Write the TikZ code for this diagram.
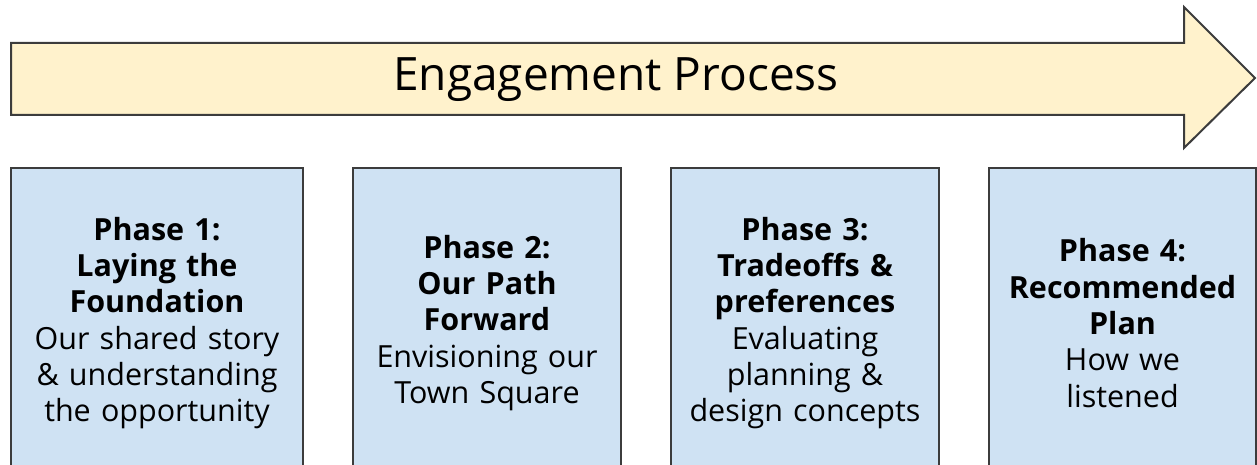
\documentclass[tikz,border=0pt]{standalone}
\usepackage{fontspec}
\setmainfont{Open Sans}
\usepackage{tikz}
\usetikzlibrary{positioning}
\definecolor{bannerfill}{HTML}{FFF2CC}
\definecolor{phasefill}{HTML}{CFE2F3}
\definecolor{edgegray}{HTML}{3C3C3C}
\tikzstyle{banner} = [draw=edgegray, line width=2pt, fill=bannerfill, line join=miter]
\tikzstyle{phase} = [rectangle, minimum width=268pt, minimum height=310pt, text width=262pt, align=center, draw=edgegray, line width=2pt, fill=phasefill, inner sep=0pt, outer sep=0pt, font=\fontsize{30.5}{36.3}\selectfont]

\begin{document}
\begin{tikzpicture}[x=1pt, y=1pt]
        \useasboundingbox (0,0) rectangle (1257,465);
        % big process arrow
        \draw [banner] (11,350) -- (1184,350) -- (1184,317) -- (1255,387) -- (1184,458) -- (1184,422) -- (11,422) -- cycle;
        \node (title) [anchor=base, font=\fontsize{46}{55}\selectfont] at (616,374) {Engagement Process};
        % phase boxes
        \node (p1) [phase, minimum width=292pt] at (157,142) {\textbf{Phase 1:}\\ \textbf{Laying the}\\ \textbf{Foundation}\\ Our shared story\\ \& understanding\\ the opportunity};
        \node (p2) [phase, right=50pt of p1] {\textbf{Phase 2:}\\ \textbf{Our Path}\\ \textbf{Forward}\\ Envisioning our\\ Town Square};
        \node (p3) [phase, right=50pt of p2] {\textbf{Phase 3:}\\ \textbf{Tradeoffs \&}\\ \textbf{preferences}\\ Evaluating\\ planning \&\\ design concepts};
        \node (p4) [phase, right=50pt of p3, minimum width=267pt] {\textbf{Phase 4:}\\ \textbf{Recommended}\\ \textbf{Plan}\\ How we\\ listened};
    \end{tikzpicture}
\end{document}
